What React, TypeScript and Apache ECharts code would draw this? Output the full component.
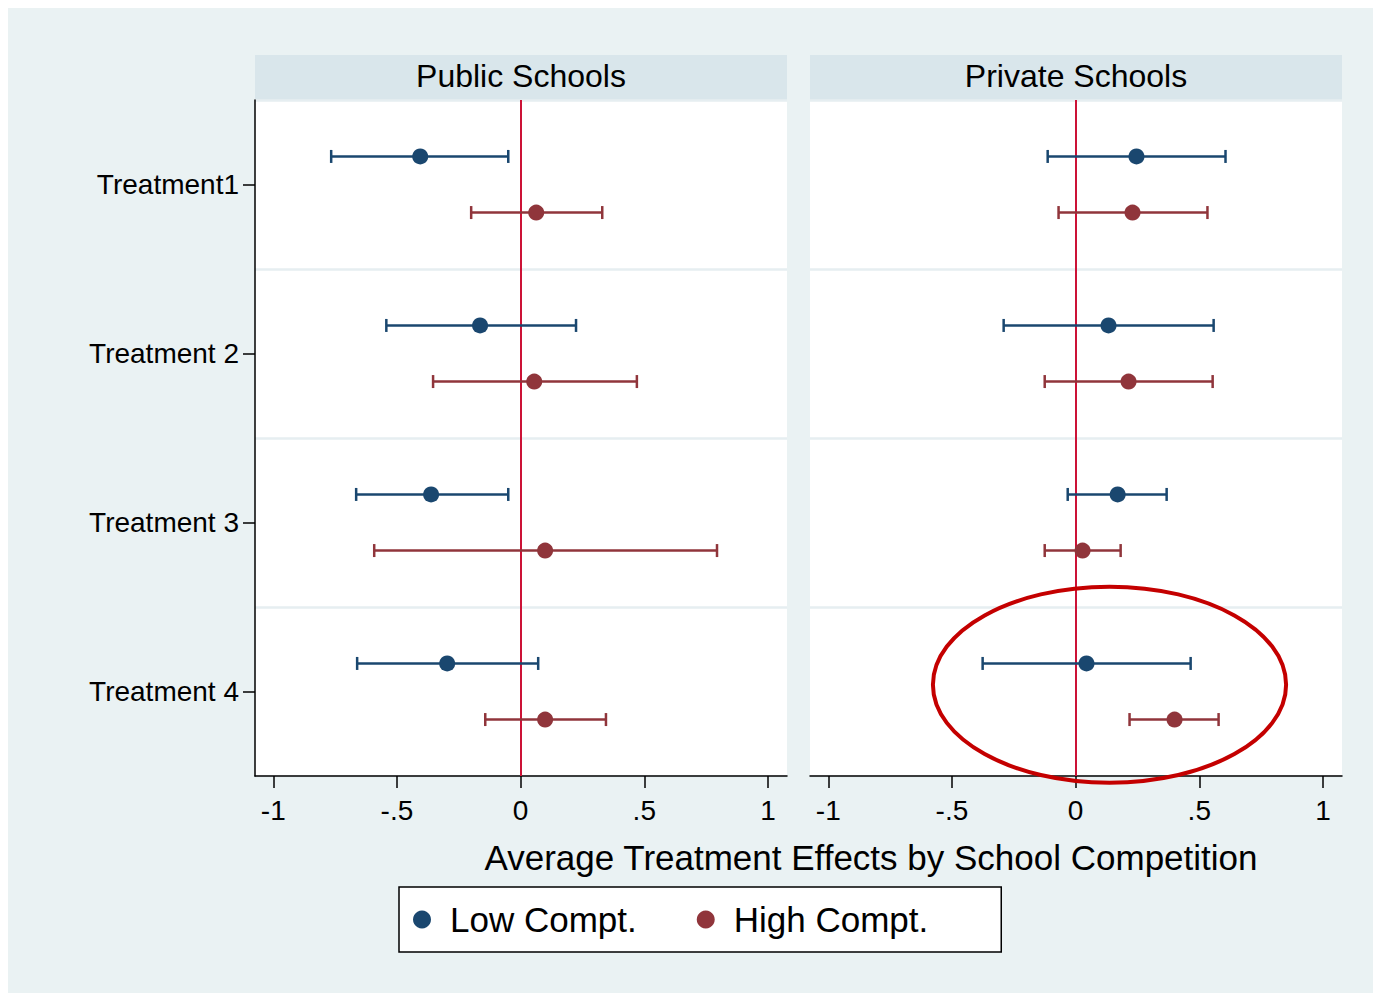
import React, { useEffect, useRef } from "react";
import * as echarts from "echarts";

const FONT = '"Liberation Sans", Arial, Helvetica, sans-serif';

const categories = ["Treatment1", "Treatment 2", "Treatment 3", "Treatment 4"];
const categoryPos = [1, 2, 3, 4];
const lowOffset = -0.166;
const highOffset = 0.166;

const panelTitles = ["Public Schools", "Private Schools"];
const xTicks = [-1, -0.5, 0, 0.5, 1];
const xTickLabels = ["-1", "-.5", "0", ".5", "1"];

// Public schools
const publicLow = [-0.406, -0.164, -0.362, -0.297];
const publicLowLo = [-0.766, -0.543, -0.665, -0.661];
const publicLowHi = [-0.05, 0.224, -0.05, 0.071];
const publicHigh = [0.063, 0.055, 0.099, 0.099];
const publicHighLo = [-0.2, -0.354, -0.592, -0.143];
const publicHighHi = [0.33, 0.47, 0.794, 0.345];

// Private schools
const privateLow = [0.246, 0.133, 0.17, 0.044];
const privateLowLo = [-0.113, -0.291, -0.032, -0.376];
const privateLowHi = [0.606, 0.558, 0.368, 0.465];
const privateHigh = [0.23, 0.214, 0.028, 0.4];
const privateHighLo = [-0.069, -0.125, -0.125, 0.218];
const privateHighHi = [0.533, 0.554, 0.182, 0.578];

const legendNames = ["Low Compt.", "High Compt."];
const axisTitle = "Average Treatment Effects by School Competition";

// annotation ellipse (data units, right panel)
const ellipseCenter = [0.137, 3.96];
const ellipseRadius = [0.714, 0.58];

const LOW_COLOR = "#1A476F";
const HIGH_COLOR = "#90353B";
const ZERO_COLOR = "#CC1236";
const BG = "#EAF2F3";
const STRIP = "#D9E6EB";

function errorBarSeries(name: string, gridIdx: number, lo: number[], hi: number[], offset: number, color: string, withZero: boolean) {
  const data = categoryPos.map((p, i) => [lo[i], hi[i], p + offset]);
  const s: any = {
    type: "custom",
    name,
    xAxisIndex: gridIdx,
    yAxisIndex: gridIdx * 2 + 1,
    encode: { x: [0, 1], y: 2 },
    z: 3,
    data,
    renderItem: (params: any, api: any) => {
      const a = api.coord([api.value(0), api.value(2)]);
      const b = api.coord([api.value(1), api.value(2)]);
      const h = 6.5;
      const style = { stroke: color, lineWidth: 2.5, fill: null };
      return {
        type: "group",
        children: [
          { type: "line", shape: { x1: a[0], y1: a[1], x2: b[0], y2: b[1] }, style },
          { type: "line", shape: { x1: a[0], y1: a[1] - h, x2: a[0], y2: a[1] + h }, style },
          { type: "line", shape: { x1: b[0], y1: b[1] - h, x2: b[0], y2: b[1] + h }, style },
        ],
      };
    },
  };
  if (withZero) {
    s.markLine = {
      silent: true,
      symbol: "none",
      label: { show: false },
      lineStyle: { color: ZERO_COLOR, width: 2, type: "solid" },
      data: [{ xAxis: 0 }],
      z: 2,
    };
  }
  return s;
}

function pointSeries(name: string, gridIdx: number, vals: number[], offset: number, color: string) {
  return {
    type: "scatter",
    name,
    xAxisIndex: gridIdx,
    yAxisIndex: gridIdx * 2 + 1,
    symbol: "circle",
    symbolSize: 16,
    itemStyle: { color, opacity: 1 },
    z: 5,
    data: categoryPos.map((p, i) => [vals[i], p + offset]),
  };
}

export default function App() {
  const ref = useRef<HTMLDivElement>(null);

  useEffect(() => {
    if (!ref.current) return;
    const chart = echarts.init(ref.current, null, { renderer: "svg" });

    const gridLefts = [247, 802];
    const gridTop = 92;
    const gridW = 532;
    const gridH = 676;

    const xAxes = gridLefts.map((_, g) => ({
      type: "value",
      gridIndex: g,
      min: -1.074,
      max: 1.077,
      axisLine: { show: true, onZero: false, lineStyle: { color: "#000", width: 1.5 } },
      axisTick: { show: true, customValues: xTicks, length: 12, lineStyle: { color: "#000", width: 1.5 } },
      axisLabel: {
        show: true,
        customValues: xTicks,
        formatter: (v: number) => {
          const idx = xTicks.findIndex((t) => Math.abs(t - v) < 1e-9);
          return idx >= 0 ? xTickLabels[idx] : "";
        },
        fontSize: 28,
        fontFamily: FONT,
        color: "#000",
        margin: 20,
      },
      splitLine: { show: false },
    }));

    const yAxes: any[] = [];
    gridLefts.forEach((_, g) => {
      yAxes.push({
        type: "category",
        gridIndex: g,
        data: categories,
        inverse: true,
        boundaryGap: true,
        position: "left",
        axisLine: { show: g === 0, onZero: false, lineStyle: { color: "#000", width: 1.5 } },
        axisTick: { show: g === 0, alignWithLabel: true, length: 12, lineStyle: { color: "#000", width: 1.5 } },
        axisLabel: { show: g === 0, fontSize: 28, fontFamily: FONT, color: "#000", margin: 16 },
        splitLine: { show: true, lineStyle: { color: "#E6EEF1", width: 2.5 } },
      });
      yAxes.push({
        type: "value",
        gridIndex: g,
        min: 0.5,
        max: 4.5,
        inverse: true,
        show: false,
        axisLine: { onZero: false },
        splitLine: { show: false },
      });
    });

    const series: any[] = [
      errorBarSeries("Low CI public", 0, publicLowLo, publicLowHi, lowOffset, LOW_COLOR, true),
      errorBarSeries("High CI public", 0, publicHighLo, publicHighHi, highOffset, HIGH_COLOR, false),
      errorBarSeries("Low CI private", 1, privateLowLo, privateLowHi, lowOffset, LOW_COLOR, true),
      errorBarSeries("High CI private", 1, privateHighLo, privateHighHi, highOffset, HIGH_COLOR, false),
      pointSeries(legendNames[0], 0, publicLow, lowOffset, LOW_COLOR),
      pointSeries(legendNames[1], 0, publicHigh, highOffset, HIGH_COLOR),
      pointSeries(legendNames[0], 1, privateLow, lowOffset, LOW_COLOR),
      pointSeries(legendNames[1], 1, privateHigh, highOffset, HIGH_COLOR),
    ];

    const stripGraphics: any[] = [];
    gridLefts.forEach((left, g) => {
      stripGraphics.push({
        id: "strip" + g,
        type: "rect",
        shape: { x: left, y: 47, width: gridW, height: 45 },
        style: { fill: STRIP },
        silent: true,
      });
      stripGraphics.push({
        id: "stripText" + g,
        type: "text",
        x: left + gridW / 2,
        y: 68,
        style: {
          text: panelTitles[g],
          fontSize: 32,
          fontFamily: FONT,
          fill: "#000",
          textAlign: "center",
          textVerticalAlign: "middle",
        },
        silent: true,
      });
    });
    stripGraphics.push({
      id: "axisTitle",
      type: "text",
      x: 863,
      y: 849,
      style: {
        text: axisTitle,
        fontSize: 35,
        fontFamily: FONT,
        fill: "#000",
        textAlign: "center",
        textVerticalAlign: "middle",
      },
      silent: true,
    });

    chart.setOption({
      animation: false,
      backgroundColor: BG,
      textStyle: { fontFamily: FONT },
      grid: gridLefts.map((left) => ({
        left,
        top: gridTop,
        width: gridW,
        height: gridH,
        show: true,
        backgroundColor: "#fff",
        borderWidth: 0,
        containLabel: false,
      })),
      xAxis: xAxes,
      yAxis: yAxes,
      legend: {
        data: legendNames.map((n) => ({ name: n, icon: "circle" })),
        left: 391,
        top: 879,
        orient: "horizontal",
        itemWidth: 18,
        itemHeight: 18,
        itemGap: 60,
        padding: [15, 73, 15, 14],
        backgroundColor: "#fff",
        borderColor: "#000",
        borderWidth: 1.5,
        borderRadius: 0,
        selectedMode: false,
        textStyle: { fontSize: 35, fontFamily: FONT, color: "#000", padding: [0, 0, 0, 14] },
      },
      series,
      graphic: stripGraphics,
    });

    const c = chart.convertToPixel({ xAxisIndex: 1, yAxisIndex: 3 } as any, ellipseCenter) as number[];
    const e = chart.convertToPixel(
      { xAxisIndex: 1, yAxisIndex: 3 } as any,
      [ellipseCenter[0] + ellipseRadius[0], ellipseCenter[1] + ellipseRadius[1]]
    ) as number[];
    if (c && e) {
      chart.setOption({
        graphic: [
          ...stripGraphics,
          {
            id: "ellipse",
            type: "ellipse",
            shape: { cx: c[0], cy: c[1], rx: Math.abs(e[0] - c[0]), ry: Math.abs(e[1] - c[1]) },
            style: { fill: "none", stroke: "#C40000", lineWidth: 4 },
            z: 100,
            silent: true,
          },
        ],
      });
    }

    return () => chart.dispose();
  }, []);

  return <div ref={ref} style={{ width: 1373, height: 985 }} />;
}
